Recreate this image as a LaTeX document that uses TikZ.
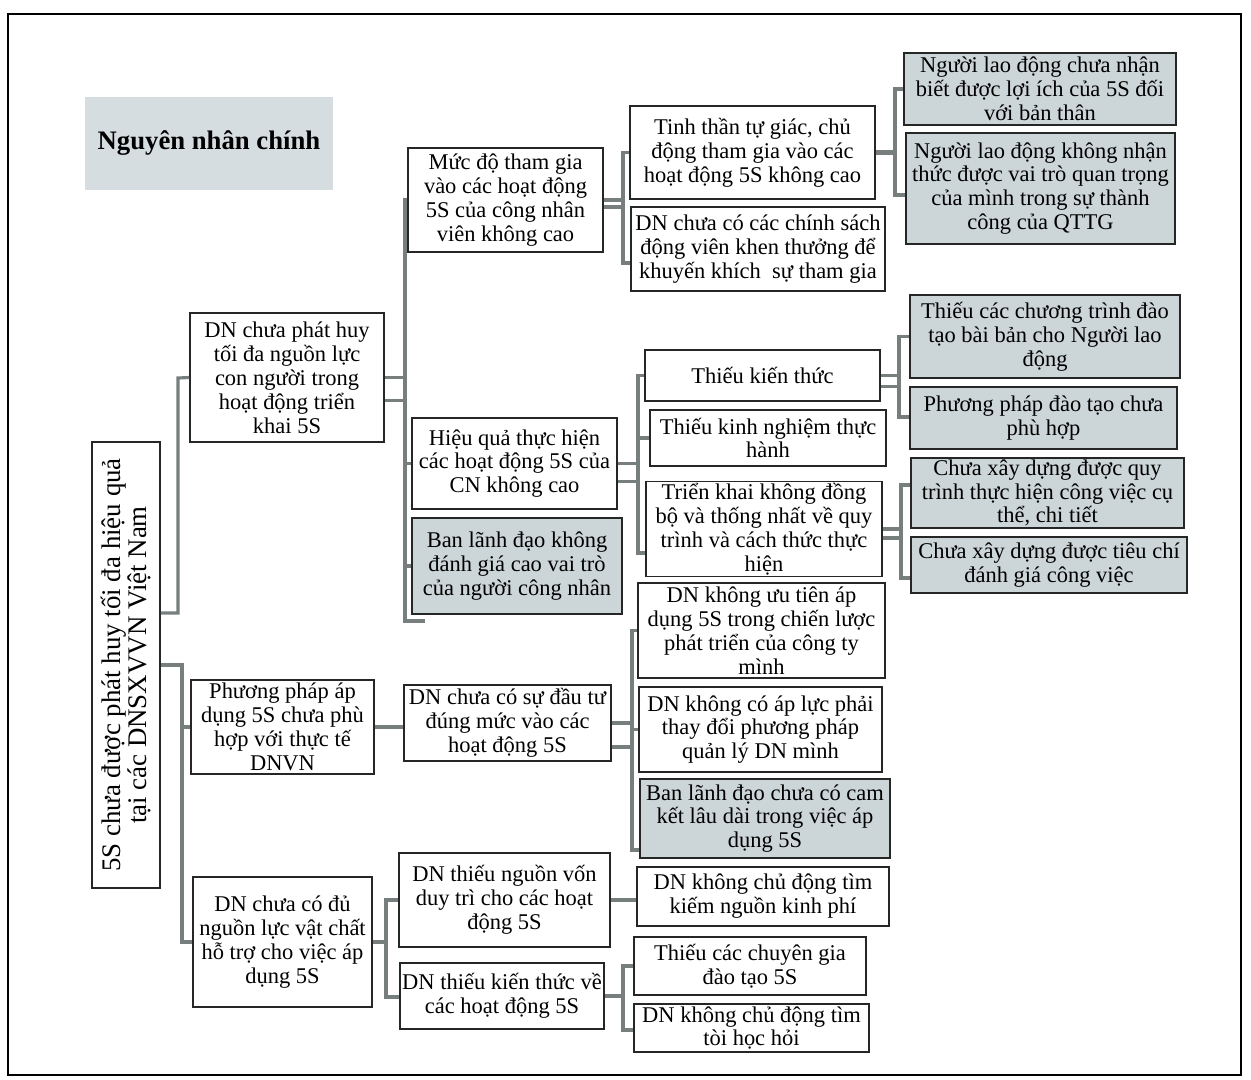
\documentclass[tikz,border=0pt]{standalone}
\usepackage{fontspec}
\setmainfont{Liberation Serif}
\usepackage{tikz}
\definecolor{boxgray}{RGB}{204,213,216}
\definecolor{titlegray}{RGB}{214,221,225}
\definecolor{linkgray}{RGB}{118,126,126}
\newlength\pxu
\setlength\pxu{0.02cm}
\tikzset{
  box/.style 2 args={draw=black!85,line width=0.9pt,fill=white,align=center,inner sep=1pt,
    minimum width=#1*0.02cm,minimum height=#2*0.02cm,
    font=\fontsize{12.8pt}{13.6pt}\selectfont},
  shaded/.style 2 args={box={#1}{#2},fill=boxgray},
  link/.style={draw=linkgray,line width=1.8pt}
}

\begin{document}
\begin{tikzpicture}[x=0.02cm,y=-0.02cm]
  \useasboundingbox (0,0) rectangle (1251,1079);
  \draw[line width=0.8pt] (8,14) rectangle (1241,1075);

  \node[fill=titlegray,minimum width=248*0.02cm,minimum height=93*0.02cm,
        font=\fontsize{15.2pt}{17pt}\selectfont\bfseries] (title) at (209,143.5) {Nguyên nhân chính};

  % root
  \node[box={446}{68},rotate=90,font=\fontsize{15.3pt}{14.8pt}\selectfont] (root) at (126,665)
    {5S chưa được phát huy tối đa hiệu quả\\tại các DNSXVVN Việt Nam};

  % second level
  \node[box={194}{129}] (A1) at (287,377.5) {DN chưa phát huy\\tối đa nguồn lực\\con người trong\\hoạt động triển\\khai 5S};
  \node[box={183}{94}]  (A2) at (282.5,727) {Phương pháp áp\\dụng 5S chưa phù\\hợp với thực tế\\DNVN};
  \node[box={179}{130}] (A3) at (282.5,942) {DN chưa có đủ\\nguồn lực vật chất\\hỗ trợ cho việc áp\\dụng 5S};

  % third level
  \node[box={195}{104}]    (B1) at (505.5,200) {Mức độ tham gia\\vào các hoạt động\\5S của công nhân\\viên không cao};
  \node[box={205}{91}]     (B2) at (514.5,463.5) {Hiệu quả thực hiện\\các hoạt động 5S của\\CN không cao};
  \node[shaded={210}{96}]  (B3) at (517,566) {Ban lãnh đạo không\\đánh giá cao vai trò\\của người công nhân};
  \node[box={207}{76}]     (H)  at (507.5,723) {DN chưa có sự đầu tư\\đúng mức vào các\\hoạt động 5S};
  \node[box={211}{94}]     (I1) at (504.5,900) {DN thiếu nguồn vốn\\duy trì cho các hoạt\\động 5S};
  \node[box={204}{66}]     (I2) at (502,996) {DN thiếu kiến thức về\\các hoạt động 5S};

  % fourth level
  \node[box={245}{93}]     (C1) at (752.5,152.5) {Tinh thần tự giác, chủ\\động tham gia vào các\\hoạt động 5S không cao};
  \node[box={254}{84}]     (C2) at (758,249) {DN chưa có các chính sách\\động viên khen thưởng để\\khuyến khích \ sự tham gia};
  \node[box={235}{51}]     (E1) at (762.5,375.5) {Thiếu kiến thức};
  \node[box={236}{56}]     (E2) at (768,438) {Thiếu kinh nghiệm thực\\hành};
  \node[box={236}{92}]     (E3) at (764,529) {Triển khai không đồng\\bộ và thống nhất về quy\\trình và cách thức thực\\hiện};
  \node[box={247}{95}]     (G1) at (761.5,630.5) {DN không ưu tiên áp\\dụng 5S trong chiến lược\\phát triển của công ty\\mình};
  \node[box={243}{85}]     (G2) at (760.5,729.5) {DN không có áp lực phải\\thay đổi phương pháp\\quản lý DN mình};
  \node[shaded={250}{79}]  (G3) at (765,818.5) {Ban lãnh đạo chưa có cam\\kết lâu dài trong việc áp\\dụng 5S};
  \node[box={252}{59}]     (J1) at (763,896.5) {DN không chủ động tìm\\kiếm nguồn kinh phí};
  \node[box={232}{58}]     (J2) at (750,966) {Thiếu các chuyên gia\\đào tạo 5S};
  \node[box={235}{48}]     (J3) at (751.5,1028) {DN không chủ động tìm\\tòi học hỏi};

  % fifth level
  \node[shaded={272}{72}]  (D1) at (1040,89) {Người lao động chưa nhận\\biết được lợi ích của 5S đối\\với bản thân};
  \node[shaded={269}{111}] (D2) at (1040.5,188.5) {Người lao động không nhận\\thức được vai trò quan trọng\\của mình trong sự thành\\công của QTTG};
  \node[shaded={270}{83}]  (F1) at (1045,336.5) {Thiếu các chương trình đào\\tạo bài bản cho Người lao\\động};
  \node[shaded={267}{62}]  (F2) at (1043.5,418) {Phương pháp đào tạo chưa\\phù hợp};
  \node[shaded={273}{70}]  (F3) at (1047.5,493) {Chưa xây dựng được quy\\trình thực hiện công việc cụ\\thể, chi tiết};
  \node[shaded={276}{56}]  (F4) at (1049,565) {Chưa xây dựng được tiêu chí\\đánh giá công việc};

  % bus points
  \coordinate (busA) at (178,378);
  \coordinate (busL) at (182,942);
  \coordinate (busB) at (405,621);
  \coordinate (busC) at (623,263);
  \coordinate (busD) at (895,195);
  \coordinate (busE) at (638,553);
  \coordinate (busF) at (899,417);
  \coordinate (busG) at (901,578);
  \coordinate (busH) at (632,850);
  \coordinate (busI) at (386,997);
  \coordinate (busJ) at (623,1030);

  % root
  \draw[link] ([yshift=52\pxu]root.south) -| (busA) -- (A1.west);
  \draw[link] (root.south) -| (busL) -- (A3.west);
  \draw[link] (A2.west) -- (A2.west -| busL);

  % A1
  \draw[link] (A1.east) -- (A1.east -| busB);
  \draw[link] ([yshift=-23\pxu]A1.east) -- ++(21,0);
  \draw[link] (B1.west) -| (busB) -- ++(20,0);
  \draw[link] (B2.west) -- (B2.west -| busB);
  \draw[link] (B3.west) -- (B3.west -| busB);

  % B1
  \draw[link] (B1.east) -- (B1.east -| busC);
  \draw[link] ([yshift=-7\pxu]B1.east) -- ++(20,0);
  \draw[link] (C1.west) -| (busC) -- (busC -| C2.west);

  % C1
  \draw[link,line width=3pt] (C1.east) -- (C1.east -| busD);
  \draw[link] (D1.west) -| (busD) -- (busD -| D2.west);

  % B2
  \draw[link] (B2.east) -- (B2.east -| busE);
  \draw[link] ([yshift=-18\pxu]B2.east) -- ++(21,0);
  \draw[link] (E1.west) -| (busE) -- (busE -| E3.west);
  \draw[link] (E2.west) -- (E2.west -| busE);

  % E1 and E3
  \draw[link] (E1.east) -- (E1.east -| busF);
  \draw[link] ([yshift=-11\pxu]E1.east) -- ++(19,0);
  \draw[link] (F1.west) -| (busF) -- (busF -| F2.west);
  \draw[link] (E3.east) -- (E3.east -| busG);
  \draw[link] ([yshift=-9\pxu]E3.east) -- ++(19,0);
  \draw[link] ([yshift=8\pxu]F3.west) -| (busG) -- (busG -| F4.west);

  % A2
  \draw[link] (A2.east) -- (A2.east -| H.west);
  \draw[link] (H.east) -- (H.east -| busH);
  \draw[link] ([yshift=-24\pxu]H.east) -- ++(21,0);
  \draw[link] (G1.west) -| (busH) -- (busH -| G3.west);
  \draw[link] (G2.west) -- (G2.west -| busH);

  % A3
  \draw[link] (A3.east) -- (A3.east -| busI);
  \draw[link] (I1.west) -| (busI) -- (busI -| I2.west);
  \draw[link] (I1.east) -- (I1.east -| J1.west);
  \draw[link] (I2.east) -- (I2.east -| busJ);
  \draw[link] (J2.west) -| (busJ) -- (busJ -| J3.west);
\end{tikzpicture}
\end{document}
